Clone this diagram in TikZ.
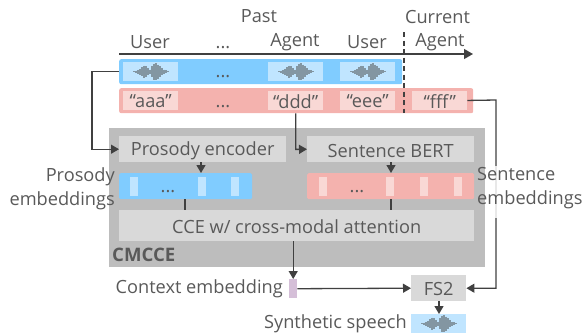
\documentclass[tikz,border=0pt]{standalone}
\usepackage{fontspec}
\setmainfont{Open Sans}
\usetikzlibrary{arrows.meta}
\definecolor{txt}{HTML}{595959}
\definecolor{ln}{HTML}{404040}
\definecolor{bl}{HTML}{80CCFF}
\definecolor{blc}{HTML}{C0E5FF}
\definecolor{pk}{HTML}{F4B2AE}
\definecolor{pkc}{HTML}{F9D8D5}
\definecolor{gr}{HTML}{BDBDBD}
\definecolor{lg}{HTML}{D9D9D9}
\definecolor{ctx}{HTML}{D5BFD8}
\definecolor{wv}{HTML}{6F7C84}
\tikzset{
  box/.style={fill=#1,draw=none,inner sep=0pt,text=txt},
  lab/.style={text=txt,font=\fontsize{18.2pt}{23.5pt}\selectfont,inner sep=0pt},
  conn/.style={draw=ln,line width=1.3pt,-{Triangle[length=8pt,width=9pt]}},
  plain/.style={draw=ln,line width=1.3pt},
  wave/.pic={
    \foreach \x/\h in {-17/0.4,-15/1,-13/1.8,-11/3,-9/4.6,-7/6,-5/5.5,-3/3.6,-1/2,1/5.5,3/8,5/8.5,7/7.2,9/5.4,11/3.6,13/2.2,15/1.3,17/0.4}{
      \draw[wv,line width=1.7pt,opacity=.75] (\x,-\h) -- (\x,\h);
    }
  }
}
\begin{document}
\begin{tikzpicture}[x=1pt,y=-1pt]
\useasboundingbox (0,0) rectangle (583,333);
% headers
\node[lab] (past) at (259,16.5) {Past};
\node[lab] (current) at (437.5,16.5) {Current};
\node[lab] (user1) at (150,42.5) {User};
\node[lab] (dots0) at (223,47.5) {...};
\node[lab] (agent1) at (295,42) {Agent};
\node[lab] (user2) at (367,42) {User};
\node[lab] (agent2) at (440,42) {Agent};
% time axis
\coordinate (t0) at (119,54);
\coordinate (t1) at (473,54);
\draw[draw=ln,line width=1.3pt,-{Triangle[length=9pt,width=10pt]}] (t0) -- (t1);
% bars
\node[box=bl,minimum width=283pt,minimum height=25pt,rounded corners=2pt,anchor=north west] (bluebar) at (119,59) {};
\node[box=pk,minimum width=354pt,minimum height=25pt,rounded corners=2pt,anchor=north west] (pinkbar) at (119,88) {};
\foreach \x/\n in {123/a,268/b,340/c}{
  \node[box=blc,minimum width=55pt,minimum height=19pt,anchor=north west] (w\n) at (\x,62) {};
  \pic at (w\n.center) {wave};
}
\node[lab] (bd) at (223,77) {...};
\node[box=pkc,minimum width=55pt,minimum height=18.5pt,anchor=north west] (aaa) at (123,91) {};
\node[lab,yshift=-1pt] at (aaa) {“aaa”};
\node[box=pkc,minimum width=55pt,minimum height=18.5pt,anchor=north west] (ddd) at (268,91) {};
\node[lab,yshift=-1pt] at (ddd) {“ddd”};
\node[box=pkc,minimum width=55pt,minimum height=18.5pt,anchor=north west] (eee) at (340,91) {};
\node[lab,yshift=-1pt] at (eee) {“eee”};
\node[box=pkc,minimum width=55pt,minimum height=18.5pt,anchor=north west] (fff) at (412,91) {};
\node[lab,yshift=-1pt] at (fff) {“fff”};
\node[lab] (pd) at (223,107) {...};
\coordinate (d0) at (404,32);
\coordinate (d1) at (404,113);
\draw[draw=ln,line width=1.3pt,dash pattern=on 5pt off 3.5pt] (d0) -- (d1);
% gray
\node[box=gr,minimum width=376pt,minimum height=139pt,anchor=north west] (cm) at (109,128) {};
\node[box=lg,minimum width=167pt,minimum height=26pt,anchor=north west] (pe) at (119,136) {};
\node[lab,yshift=-1.5pt] at (pe) {Prosody encoder};
\node[box=lg,minimum width=167pt,minimum height=26pt,anchor=north west] (sb) at (307,136) {};
\node[lab,yshift=-1.5pt] at (sb) {Sentence BERT};
\node[box=bl,minimum width=133pt,minimum height=26pt,rounded corners=1.5pt,anchor=north west] (pem) at (119,173) {};
\node[box=pk,minimum width=167pt,minimum height=26pt,rounded corners=1.5pt,anchor=north west] (sem) at (307,173) {};
\foreach \x in {130,198,231}{\node[box=blc,minimum width=8pt,minimum height=19pt,anchor=north west] at (\x,177) {};}
\foreach \x in {319,386,420,454}{\node[box=pkc,minimum width=8pt,minimum height=19pt,anchor=north west] at (\x,177) {};}
\node[lab] at (168,192) {...};
\node[lab] at (357,192) {...};
\node[box=lg,minimum width=355pt,minimum height=31pt,anchor=north west] (cce) at (119,210) {};
\node[lab,yshift=-1pt] at (cce) {CCE w/ cross-modal attention};
\node[lab,anchor=west,font=\fontsize{18.6pt}{23pt}\selectfont\bfseries] (cmt) at (112,255) {CMCCE};
% lower
\node[box=ctx,minimum width=8pt,minimum height=19pt,anchor=north west] (ctxe) at (289,279) {};
\node[lab,anchor=east] (ctxl) at (283,289) {Context embedding};
\node[box=lg,minimum width=55pt,minimum height=26pt,anchor=north west] (fs) at (411,275) {};
\node[lab,yshift=-1pt] at (fs) {FS2};
\node[box=blc,minimum width=55pt,minimum height=19pt,anchor=north west] (sp) at (411,314) {};
\pic at (sp.center) {wave};
\node[lab,anchor=east] (spl) at (407,324) {Synthetic speech};
% connectors
\draw[conn] (bluebar.west) -- ++(-27,0) |- (pe.west);
\draw[conn] (ddd.south |- pinkbar.south) -- ++(0,36) -- (sb.west);
\draw[conn] (fff.east) -- (496,100) |- (fs.east);
\draw[draw=ln!12!white,line width=1.3pt] (496,166) -- (496,218);
\draw[conn] (201,162) -- (201,173);
\draw[conn] (391,162) -- (391,173);
\draw[plain] (185,199) -- (185,210);
\draw[plain] (391,199) -- (391,210);
\draw[conn] (cce.south -| ctxe) -- (ctxe.north);
\draw[conn] (ctxe.east) -- (fs.west);
\draw[conn] (439,301) -- (sp.north -| 439,0);
% side labels
\node[lab,align=right,anchor=east] (pl) at (115,189) {Prosody\\embeddings};
\node[lab,align=left,anchor=west] (sl) at (477,188) {Sentence\\embeddings};
\end{tikzpicture}
\end{document}
